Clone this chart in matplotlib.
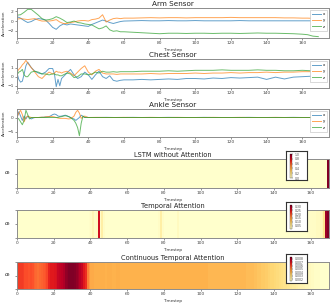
import matplotlib
matplotlib.use("Agg")
import matplotlib.pyplot as plt
from matplotlib.ticker import MultipleLocator
import numpy as np

# ---------------- data ----------------
arm_t = [0, 2, 4, 6, 8, 10, 12, 14, 16, 18, 20, 22, 24, 26, 28, 30, 32, 34, 36, 38, 40,
         42, 44, 46, 48, 50, 52, 54, 56, 58, 60,
         65, 70, 75, 80, 85, 90, 95, 100, 105, 110, 115, 120, 125, 130, 135, 140, 145,
         150, 155, 160, 163, 166, 169]
arm_x = [0.9, 0.6, 0.1, -0.3, -0.1, 0.3, 0.5, 0.4, 0.2, -0.5, -1.3, -1.7, -1.0, -0.6, -0.8,
         -0.6, -0.7, -0.8, -0.9, -1.0, -1.1, -0.7, -0.4, -0.1, 0.2, 0.0, -0.3, -0.5, -0.3, -0.1, 0.0,
         0.05, 0.1, 0.05, 0.05, 0.1, 0.05, 0.05, 0.1, 0.05, 0.05, 0.05, 0.05, 0.1, 0.05, 0.05,
         0.05, 0.05, 0.05, 0.05, 0.05, 0.05, 0.05, 0.05]
arm_y = [0.4, 0.5, 0.4, 0.3, 0.4, 0.5, 0.2, 0.0, 0.0, 0.0, 0.1, 0.3, -0.2, -0.5, -0.5, -0.3,
         -0.2, 0.0, 0.1, 0.1, 0.0, 0.3, 0.4, 0.6, 1.3, -0.2, 0.2, 0.5, 0.6, 0.5, 0.6,
         0.6, 0.65, 0.7, 0.65, 0.7, 0.7, 0.65, 0.7, 0.7, 0.7, 0.7, 0.75, 0.7, 0.7, 0.7, 0.7,
         0.7, 0.65, 0.65, 0.6, 0.6, 0.55, 0.5]
arm_z = [1.2, 1.3, 1.8, 2.4, 2.4, 1.8, 1.2, 0.5, 0.2, 0.3, 0.5, 0.9, 0.6, 0.2, -0.3, -0.2,
         0.0, -0.3, -0.4, -0.6, -0.7, -0.8, -1.2, -1.6, -1.4, -1.0, -1.8, -2.1, -2.0, -2.2, -2.2,
         -2.3, -2.4, -2.5, -2.6, -2.5, -2.5, -2.55, -2.5, -2.5, -2.55, -2.5, -2.5, -2.55, -2.5,
         -2.45, -2.5, -2.5, -2.55, -2.6, -2.7, -2.8, -3.1, -3.2]

chest_t = [0, 1, 2, 3, 4, 5, 6, 8, 10, 12, 14, 16, 18, 20, 21, 22, 23, 24, 25, 26, 28, 30,
           32, 34, 36, 38, 40, 42, 44, 46, 48, 50, 52, 54, 56, 58, 60,
           65, 70, 75, 80, 85, 90, 95, 100, 105, 110, 115, 120, 125, 130, 135, 140, 145,
           150, 155, 160, 165]
chest_x = [0.4, -0.3, -0.6, -0.5, 0.3, 1.2, 1.6, 1.0, 0.6, 0.4, 0.3, 0.5, 0.9, 0.9, 0.3, -1.1,
           -0.3, -1.0, -0.2, 0.0, 0.4, 0.8, 0.2, -0.2, 0.0, 0.5, 0.2, -0.3, 0.2, 0.6, 0.0, -0.2,
           0.1, -0.4, -0.5, -0.4, -0.35,
           -0.35, -0.3, -0.35, -0.3, -0.25, -0.3, -0.2, -0.2, -0.25, -0.15, -0.2, -0.1, -0.15,
           -0.1, -0.05, -0.3, -0.05, -0.25, -0.05, 0.0, 0.05]
chest_y = [0.5, 0.8, 1.0, 1.3, 1.5, 1.8, 1.5, 1.0, 0.5, 0.0, -0.2, 0.2, 0.5, 0.3, 0.4, 0.6,
           0.5, 0.5, 0.4, 0.5, 0.6, 0.4, 0.1, 0.5, 0.9, 1.2, 0.5, 0.2, 0.6, 0.8, 0.4, 0.3, 0.3,
           0.3, 0.25, 0.3, 0.3,
           0.3, 0.3, 0.35, 0.3, 0.35, 0.35, 0.35, 0.4, 0.35, 0.4, 0.4, 0.45, 0.4, 0.45, 0.45,
           0.5, 0.45, 0.5, 0.5, 0.55, 0.55]
chest_z = [0.2, 0.5, 0.6, 0.8, 0.2, 0.0, 0.0, 0.5, 0.6, 0.5, 0.3, 0.3, 0.2, 0.3, 0.3, 0.2,
           0.2, 0.1, 0.1, 0.2, 0.4, 0.3, -0.1, 0.0, 0.3, 0.3, 0.2, 0.3, 0.5, 0.4, 0.6, 0.5, 0.5,
           0.55, 0.5, 0.55, 0.55,
           0.55, 0.6, 0.6, 0.6, 0.65, 0.6, 0.65, 0.7, 0.7, 0.7, 0.75, 0.7, 0.7, 0.7, 0.75, 0.7,
           0.7, 0.65, 0.65, 0.7, 0.65]

ankle_t = list(range(0, 41)) + [45, 50, 55, 60, 65, 70, 75, 80, 85, 90, 95, 100, 105, 110,
                                 115, 120, 125, 130, 135, 140, 145, 150, 155, 160, 165]
ankle_x = [0.0, 2.0, 0.5, -1.0, 0.5, -0.5, 0.5, 0.0, -0.5, -0.2, 0.0, 0.0, 0.0, 0.0, 0.1, 0.1,
           0.2, 0.2, 0.3, 0.6, 1.0, 1.2, 1.0, 0.5, 0.4, 0.5, 0.6, 0.8, 0.6, 0.3, 0.0, -0.3, -0.5,
           -1.0, -0.5, 0.0, 0.8, 0.4, 0.0, 0.1, 0.0,
           0.0, 0.05, 0.0, 0.0, 0.05, 0.0, 0.0, 0.0, 0.05, 0.0, 0.0, 0.0, 0.05, 0.0, 0.0, 0.0,
           0.0, 0.05, 0.0, 0.0, 0.0, 0.0, 0.05, 0.0, 0.0]
ankle_y = [0.0, 1.5, 2.5, 1.0, -1.5, 0.0, 0.5, 0.2, 0.0, 0.0, 0.0, 0.0, 0.0, 0.1, 0.1, 0.1,
           0.2, 0.3, 0.3, 0.3, 0.3, 0.2, 0.0, -0.2, -0.3, -0.3, -0.3, -0.3, -0.4, -0.5, -0.4,
           0.0, 0.5, 1.8, 2.5, 1.5, -0.3, 0.2, 0.5, 0.2, 0.0,
           0.05, 0.0, 0.0, 0.05, 0.0, 0.0, 0.05, 0.0, 0.0, 0.05, 0.0, 0.0, 0.0, 0.05, 0.0, 0.0,
           0.05, 0.0, 0.0, 0.0, 0.05, 0.0, 0.0, 0.0, 0.0]
ankle_z = [0.0, -0.5, -1.5, -2.5, -1.0, 2.5, 1.0, -0.5, 0.0, 0.0, 0.0, 0.0, 0.0, 0.0, 0.0, 0.0,
           0.0, 0.0, 0.0, 0.0, 0.0, 0.0, 0.0, 0.0, 0.2, 0.3, 0.5, 0.6, 0.5, 0.3, 0.0, -0.5, -1.0,
           -2.0, -3.5, -6.3, -2.0, 0.5, 0.0, 0.0, 0.0,
           0.0, 0.0, 0.0, 0.0, 0.0, 0.0, 0.0, 0.0, 0.0, 0.0, 0.0, 0.0, 0.0, 0.0, 0.0, 0.0,
           0.0, 0.0, 0.0, 0.0, 0.0, 0.0, 0.0, 0.0, 0.0]

lstm_weights = [0.0] * 169 + [1.0]

temporal_weights = [
    0.005, 0.005, 0.005, 0.005, 0.005, 0.005, 0.005, 0.005, 0.005, 0.005,
    0.005, 0.005, 0.005, 0.005, 0.005, 0.005, 0.005, 0.005, 0.005, 0.005,
    0.005, 0.005, 0.005, 0.005, 0.005, 0.005, 0.005, 0.005, 0.005, 0.005,
    0.005, 0.005, 0.005, 0.005, 0.005, 0.005, 0.005, 0.005, 0.006, 0.008,
    0.012, 0.025, 0.012, 0.015, 0.260, 0.010, 0.040, 0.012, 0.006, 0.005,
    0.005, 0.005, 0.005, 0.005, 0.005, 0.005, 0.005, 0.005, 0.005, 0.005,
    0.005, 0.005, 0.005, 0.005, 0.005, 0.005, 0.005, 0.005, 0.005, 0.005,
    0.005, 0.005, 0.005, 0.005, 0.005, 0.005, 0.006, 0.010, 0.040, 0.010,
    0.005, 0.005, 0.005, 0.005, 0.005, 0.005, 0.006, 0.015, 0.006, 0.005,
    0.005, 0.005, 0.005, 0.005, 0.005, 0.005, 0.005, 0.005, 0.005, 0.005,
    0.005, 0.005, 0.005, 0.005, 0.005, 0.005, 0.005, 0.005, 0.005, 0.005,
    0.005, 0.005, 0.005, 0.005, 0.005, 0.005, 0.005, 0.005, 0.005, 0.005,
    0.005, 0.005, 0.005, 0.005, 0.005, 0.005, 0.005, 0.005, 0.005, 0.005,
    0.005, 0.005, 0.005, 0.005, 0.005, 0.005, 0.005, 0.005, 0.005, 0.005,
    0.005, 0.005, 0.005, 0.005, 0.005, 0.005, 0.005, 0.005, 0.005, 0.005,
    0.005, 0.005, 0.005, 0.005, 0.005, 0.005, 0.005, 0.005, 0.008, 0.010,
    0.010, 0.012, 0.012, 0.015, 0.015, 0.020, 0.025, 0.060, 0.300, 0.320]

continuous_weights = [
    0.0062, 0.0062, 0.0062, 0.0061, 0.0059, 0.0059, 0.0058, 0.0059, 0.0058, 0.0056,
    0.0055, 0.0054, 0.0055, 0.0056, 0.0057, 0.0058, 0.0060, 0.0066, 0.0068, 0.0068,
    0.0069, 0.0070, 0.0074, 0.0075, 0.0076, 0.0078, 0.0082, 0.0083, 0.0085, 0.0085,
    0.0085, 0.0084, 0.0082, 0.0080, 0.0077, 0.0074, 0.0068, 0.0064, 0.0052, 0.0047,
    0.0043, 0.0043, 0.0042, 0.0042, 0.0042, 0.0042, 0.0042, 0.0042, 0.0041, 0.0042,
    0.0042, 0.0042, 0.0041, 0.0041, 0.0042, 0.0042, 0.0041, 0.0041, 0.0041, 0.0041,
    0.0041, 0.0041, 0.0041, 0.0041, 0.0041, 0.0041, 0.0041, 0.0041, 0.0041, 0.0041,
    0.0041, 0.0041, 0.0041, 0.0041, 0.0041, 0.0041, 0.0041, 0.0041, 0.0041, 0.0041,
    0.0041, 0.0041, 0.0041, 0.0041, 0.0041, 0.0041, 0.0041, 0.0041, 0.0041, 0.0041,
    0.0041, 0.0041, 0.0041, 0.0041, 0.0041, 0.0041, 0.0041, 0.0041, 0.0041, 0.0041,
    0.0041, 0.0041, 0.0041, 0.0041, 0.0040, 0.0040, 0.0040, 0.0040, 0.0040, 0.0040,
    0.0040, 0.0040, 0.0040, 0.0040, 0.0040, 0.0040, 0.0040, 0.0040, 0.0040, 0.0040,
    0.0040, 0.0040, 0.0040, 0.0040, 0.0040, 0.0039, 0.0039, 0.0039, 0.0039, 0.0038,
    0.0038, 0.0037, 0.0037, 0.0036, 0.0036, 0.0035, 0.0035, 0.0034, 0.0033, 0.0033,
    0.0032, 0.0031, 0.0031, 0.0030, 0.0029, 0.0028, 0.0028, 0.0027, 0.0026, 0.0025,
    0.0024, 0.0024, 0.0023, 0.0022, 0.0021, 0.0021, 0.0020, 0.0019, 0.0019, 0.0018,
    0.0017, 0.0017, 0.0016, 0.0016, 0.0016, 0.0015, 0.0015, 0.0015, 0.0015, 0.0015]

sensor_titles = ["Arm Sensor", "Chest Sensor", "Ankle Sensor"]
sensor_yticks = [[-2, 0, 2], [-1, 0, 1], [-5, 0]]
heat_titles = ["LSTM without Attention", "Temporal Attention", "Continuous Temporal Attention"]
cbar_steps = [0.2, 0.05, 0.001]
series_labels = ["x", "y", "z"]

# ---------------- figure ----------------
W, H = 332, 303
fig = plt.figure(figsize=(W / 100, H / 100), dpi=100)

left_px, right_px = 17, 329
sensor_rows = [(8, 38), (59, 88), (109, 137)]
heat_rows = [(159, 188), (210, 238), (262, 289)]

def rect(top, bottom):
    return [left_px / W, 1 - bottom / H, (right_px - left_px) / W, (bottom - top) / H]

spine_col = "#8c8c8c"
tick_kw = dict(labelsize=3.2, length=1.5, width=0.4, pad=1, colors="#444444")

sensor_data = [
    (arm_t, [arm_x, arm_y, arm_z]),
    (chest_t, [chest_x, chest_y, chest_z]),
    (ankle_t, [ankle_x, ankle_y, ankle_z]),
]
colors = ["#1f77b4", "#ff7f0e", "#2ca02c"]
for (top, bot), title, (t, ys), yt in zip(sensor_rows, sensor_titles, sensor_data, sensor_yticks):
    ax = fig.add_axes(rect(top, bot))
    for y, lab, c in zip(ys, series_labels, colors):
        ax.plot(t, y, color=c, lw=0.7, alpha=0.7, label=lab)
    ax.set_xlim(0, 175)
    ax.set_xticks(range(0, 161, 20))
    ax.set_yticks(yt)
    ax.tick_params(**tick_kw)
    ax.set_title(title, fontsize=5.2, pad=1.5, color="#222222")
    ax.set_xlabel("Timestep", fontsize=3, labelpad=1.5, color="#333333")
    ax.set_ylabel("Acceleration", fontsize=3, labelpad=1, color="#333333")
    for s in ax.spines.values():
        s.set_color(spine_col)
        s.set_linewidth(0.7)
    leg = ax.legend(loc="upper right", fontsize=2.8, handlelength=2.2, borderpad=0.5,
                    labelspacing=0.6, handletextpad=0.6, framealpha=1, fancybox=False)
    leg.get_frame().set_linewidth(0.4)
    leg.get_frame().set_edgecolor("#bbbbbb")

heat_data = [lstm_weights, temporal_weights, continuous_weights]
for (top, bot), title, w, step in zip(heat_rows, heat_titles, heat_data, cbar_steps):
    ax = fig.add_axes(rect(top, bot))
    arr = np.array(w)[None, :]
    im = ax.imshow(arr, aspect="auto", cmap="YlOrRd", extent=(0, len(w), 1, 0),
                   interpolation="nearest")
    ax.set_xticks(range(0, 161, 20))
    ax.set_yticks([0, 0.5, 1])
    ax.set_yticklabels([])
    ax.tick_params(**tick_kw)
    ax.set_title(title, fontsize=4.8, pad=1.5, color="#222222")
    ax.set_xlabel("Timestep", fontsize=3, labelpad=1.5, color="#333333")
    ax.set_ylabel(r"$\alpha_t$", fontsize=4, rotation=0, labelpad=4, va="center",
                  ha="center", color="#222222")
    for s in ax.spines.values():
        s.set_color(spine_col)
        s.set_linewidth(0.7)
    # inset colorbar box
    box_top = top - 8
    box_h = 29
    bax = fig.add_axes([286 / W, 1 - (box_top + box_h) / H, 21 / W, box_h / H])
    bax.set_xticks([])
    bax.set_yticks([])
    bax.set_facecolor("white")
    for s in bax.spines.values():
        s.set_color("#333333")
        s.set_linewidth(0.8)
    cax = fig.add_axes([290 / W, 1 - (box_top + box_h - 2) / H, 2.3 / W, (box_h - 5) / H])
    cb = fig.colorbar(im, cax=cax)
    cb.locator = MultipleLocator(step)
    cb.update_ticks()
    cb.outline.set_linewidth(0.2)
    cax.tick_params(labelsize=2.2, length=1, width=0.3, pad=0.8, colors="#444444")

fig.savefig("out.png", dpi=100)
